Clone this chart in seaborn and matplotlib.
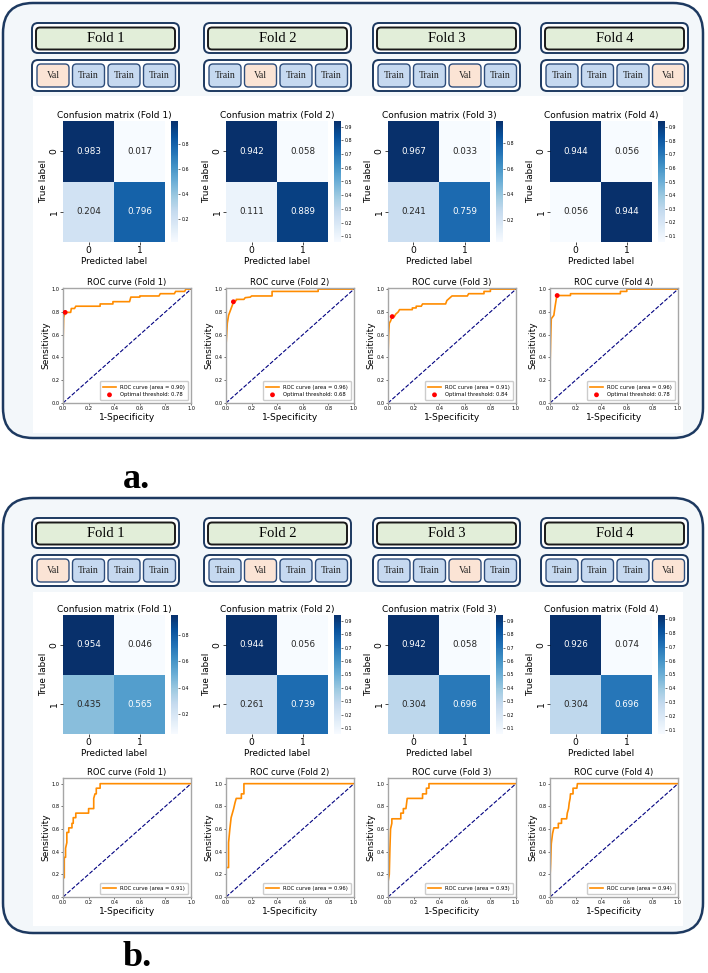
import matplotlib.pyplot as plt
import numpy as np
import seaborn as sns
from matplotlib.patches import FancyBboxPatch, Rectangle

# -------------------------------------------------------------------------
# DATA
# -------------------------------------------------------------------------
folds = ["Fold 1", "Fold 2", "Fold 3", "Fold 4"]
class_labels = ["0", "1"]

# row-normalised confusion matrices
cm_a = [
    [[0.983, 0.017], [0.204, 0.796]],
    [[0.942, 0.058], [0.111, 0.889]],
    [[0.967, 0.033], [0.241, 0.759]],
    [[0.944, 0.056], [0.056, 0.944]],
]
cm_b = [
    [[0.954, 0.046], [0.435, 0.565]],
    [[0.944, 0.056], [0.261, 0.739]],
    [[0.942, 0.058], [0.304, 0.696]],
    [[0.926, 0.074], [0.304, 0.696]],
]
ticks_coarse = [0.2, 0.4, 0.6, 0.8]
ticks_fine = [0.1, 0.2, 0.3, 0.4, 0.5, 0.6, 0.7, 0.8, 0.9]
cbar_ticks_a = [ticks_coarse, ticks_fine, ticks_coarse, ticks_fine]
cbar_ticks_b = [ticks_coarse, ticks_fine, ticks_fine, ticks_fine]

auc_a = [0.90, 0.96, 0.91, 0.96]
auc_b = [0.91, 0.96, 0.93, 0.94]
thr_a = [0.78, 0.68, 0.84, 0.78]

# ROC curves (fpr, tpr)
fpr_a = [
    [0, 0, 0.005, 0.017, 0.06, 0.065, 0.09, 0.1, 0.29, 0.29, 0.39, 0.39, 0.52, 0.53, 0.6, 0.6, 0.75, 0.76, 0.87, 0.88, 0.95, 0.96, 1.0],
    [0, 0, 0.01, 0.02, 0.03, 0.04, 0.05, 0.058, 0.08, 0.08, 0.14, 0.15, 0.19, 0.2, 0.36, 0.36, 0.72, 0.72, 1.0],
    [0, 0, 0.005, 0.01, 0.02, 0.033, 0.05, 0.06, 0.08, 0.09, 0.19, 0.19, 0.22, 0.22, 0.26, 0.27, 0.45, 0.46, 0.48, 0.5, 0.62, 0.63, 0.75, 0.75, 0.8, 0.8, 1.0],
    [0, 0, 0.005, 0.01, 0.03, 0.04, 0.05, 0.056, 0.16, 0.16, 0.55, 0.55, 0.6, 0.6, 1.0],
]
tpr_a = [
    [0, 0.5, 0.75, 0.796, 0.796, 0.83, 0.83, 0.85, 0.85, 0.87, 0.87, 0.89, 0.89, 0.93, 0.93, 0.94, 0.94, 0.96, 0.96, 0.98, 0.98, 1.0, 1.0],
    [0, 0.5, 0.7, 0.77, 0.8, 0.83, 0.86, 0.889, 0.9, 0.91, 0.91, 0.925, 0.93, 0.94, 0.94, 0.98, 0.98, 1.0, 1.0],
    [0, 0.4, 0.6, 0.7, 0.72, 0.759, 0.76, 0.78, 0.8, 0.82, 0.82, 0.835, 0.835, 0.85, 0.85, 0.87, 0.87, 0.9, 0.92, 0.94, 0.94, 0.96, 0.96, 0.98, 0.98, 1.0, 1.0],
    [0, 0.3, 0.55, 0.74, 0.77, 0.85, 0.92, 0.944, 0.944, 0.96, 0.96, 0.98, 0.98, 1.0, 1.0],
]
fpr_b = [
    [0, 0, 0.01, 0.01, 0.02, 0.02, 0.03, 0.03, 0.045, 0.045, 0.07, 0.07, 0.08, 0.08, 0.1, 0.1, 0.2, 0.2, 0.24, 0.24, 0.25, 0.26, 0.26, 0.29, 0.29, 1.0],
    [0, 0, 0.02, 0.02, 0.03, 0.04, 0.05, 0.06, 0.07, 0.08, 0.12, 0.12, 0.14, 0.14, 1.0],
    [0, 0, 0.01, 0.015, 0.02, 0.03, 0.03, 0.1, 0.1, 0.12, 0.12, 0.14, 0.15, 0.27, 0.27, 0.3, 0.3, 0.32, 0.32, 1.0],
    [0, 0, 0.005, 0.01, 0.02, 0.03, 0.065, 0.065, 0.09, 0.09, 0.13, 0.135, 0.145, 0.15, 0.157, 0.16, 0.18, 0.18, 0.21, 0.214, 1.0],
]
tpr_b = [
    [0, 0.17, 0.17, 0.35, 0.35, 0.43, 0.48, 0.57, 0.57, 0.61, 0.61, 0.65, 0.65, 0.7, 0.7, 0.74, 0.74, 0.78, 0.78, 0.87, 0.91, 0.91, 0.96, 0.96, 1.0, 1.0],
    [0, 0.26, 0.26, 0.48, 0.6, 0.7, 0.74, 0.78, 0.83, 0.87, 0.87, 0.91, 0.91, 1.0, 1.0],
    [0, 0.13, 0.2, 0.43, 0.6, 0.65, 0.69, 0.69, 0.74, 0.74, 0.78, 0.78, 0.87, 0.87, 0.91, 0.91, 0.96, 0.96, 1.0, 1.0],
    [0, 0.17, 0.3, 0.47, 0.56, 0.61, 0.61, 0.65, 0.65, 0.69, 0.69, 0.74, 0.78, 0.83, 0.87, 0.91, 0.91, 0.96, 0.96, 1.0, 1.0],
]

# -------------------------------------------------------------------------
# LAYOUT (pixel coordinates of the 708x973 canvas)
# -------------------------------------------------------------------------
W, H = 708, 973
col_x = [63, 226, 388, 550]          # left edge of each plot column
head_x = [32, 204, 373, 541]         # left edge of each fold header
NAVY = "#1d3960"

fig = plt.figure(figsize=(W / 100, H / 100), dpi=100)
bg = fig.add_axes([0, 0, 1, 1])
bg.set_xlim(0, W)
bg.set_ylim(H, 0)
bg.axis("off")
bg.set_zorder(-5)


def px_axes(x0, y0, x1, y1):
    return fig.add_axes([x0 / W, 1 - y1 / H, (x1 - x0) / W, (y1 - y0) / H])


def rbox(x0, y0, x1, y1, r, fc, ec, lw):
    bg.add_patch(FancyBboxPatch((x0, y0), x1 - x0, y1 - y0,
                                boxstyle=f"round,pad=0,rounding_size={r}",
                                fc=fc, ec=ec, lw=lw))


def draw_panel(top, box_bottom, white, cm_y, roc_y, ylim_top, cms, cticks, fprs, tprs, aucs, thrs, tag, tag_y):
    rbox(3, top, 703, box_bottom, 30, "#f3f7fa", NAVY, 1.8)
    bg.add_patch(Rectangle((33, white[0]), 650, white[1] - white[0], fc="white", ec="none"))
    bg.text(137, tag_y, tag, ha="center", va="center", fontsize=26, fontweight="bold",
            family="Liberation Serif")

    hy = top + 20
    for i, fold in enumerate(folds):
        x0 = head_x[i]
        # fold title
        rbox(x0, hy, x0 + 147, hy + 30, 6, "white", NAVY, 1.4)
        rbox(x0 + 4, hy + 4.5, x0 + 143, hy + 26.5, 4, "#e2eed9", "#1a1a1a", 1.4)
        bg.text(x0 + 73.5, hy + 15.5, fold, ha="center", va="center", fontsize=10.5,
                family="Liberation Serif")
        # train / val split
        rbox(x0, hy + 37, x0 + 147, hy + 68, 6, "white", NAVY, 1.4)
        for j in range(4):
            cx = x0 + 5 + j * 35.5
            is_val = j == i
            rbox(cx, hy + 41, cx + 32, hy + 64, 4, "#fbe4d5" if is_val else "#c6d9f0",
                 "#2e4d7b", 1.0)
            bg.text(cx + 16, hy + 52.5, "Val" if is_val else "Train", ha="center",
                    va="center", fontsize=7, family="Liberation Serif", color="#222222")

        # confusion matrix
        ax = px_axes(col_x[i], cm_y[0], col_x[i] + 102, cm_y[1])
        cax = px_axes(col_x[i] + 108, cm_y[0], col_x[i] + 115, cm_y[1])
        sns.heatmap(np.array(cms[i]), annot=True, fmt=".3f", cmap="Blues", ax=ax, cbar_ax=cax,
                    cbar_kws={"ticks": cticks[i]}, annot_kws={"size": 6.3},
                    xticklabels=class_labels, yticklabels=class_labels)
        ax.tick_params(labelsize=6.6, length=2, width=0.5, pad=1)
        ax.set_yticklabels(class_labels, rotation=90, va="center")
        cax.tick_params(labelsize=3.4, length=1.5, width=0.4, pad=1)
        ax.set_xlabel("Predicted label", fontsize=6.4, labelpad=1)
        ax.set_ylabel("True label", fontsize=6.4, labelpad=1)
        ax.set_title(f"Confusion matrix ({fold})", fontsize=6.5, pad=2)

        # ROC curve
        rx = px_axes(col_x[i], roc_y[0], col_x[i] + 128, roc_y[1])
        sns.lineplot(x=fprs[i], y=tprs[i], sort=False, estimator=None, color="darkorange",
                     lw=1.2, label=f"ROC curve (area = {aucs[i]:.2f})", ax=rx)
        rx.plot([0, 1], [0, 1], color="navy", lw=0.8, ls="--")
        if thrs is not None:
            sns.scatterplot(x=[cms[i][0][1]], y=[cms[i][1][1]], color="red", s=12,
                            edgecolor="none", zorder=5,
                            label=f"Optimal threshold: {thrs[i]:.2f}", ax=rx)
        rx.set_xlim(0, 1)
        rx.set_ylim(0, ylim_top)
        rx.set_xticks(np.arange(0, 1.01, 0.2))
        rx.set_yticks(np.arange(0, 1.01, 0.2))
        rx.tick_params(labelsize=3.6, length=1.5, width=0.4, pad=1)
        for s in rx.spines.values():
            s.set_color("#a6a6a6")
            s.set_linewidth(1.0)
        rx.set_xlabel("1-Specificity", fontsize=6.5, labelpad=1)
        rx.set_ylabel("Sensitivity", fontsize=6.5, labelpad=1)
        rx.set_title(f"ROC curve ({fold})", fontsize=6.0, pad=2)
        rx.legend(loc="lower right", fontsize=3.8, handlelength=2.5, borderpad=0.6,
                  framealpha=1, edgecolor="#cccccc")


draw_panel(3, 438, (96, 433), (121, 242), (288, 403), 1.01,
           cm_a, cbar_ticks_a, fpr_a, tpr_a, auc_a, thr_a, "a.", 480)
draw_panel(498, 933, (592, 926), (615, 734), (778, 897), 1.05,
           cm_b, cbar_ticks_b, fpr_b, tpr_b, auc_b, None, "b.", 957)

fig.savefig("out.png", dpi=100, facecolor="white")
